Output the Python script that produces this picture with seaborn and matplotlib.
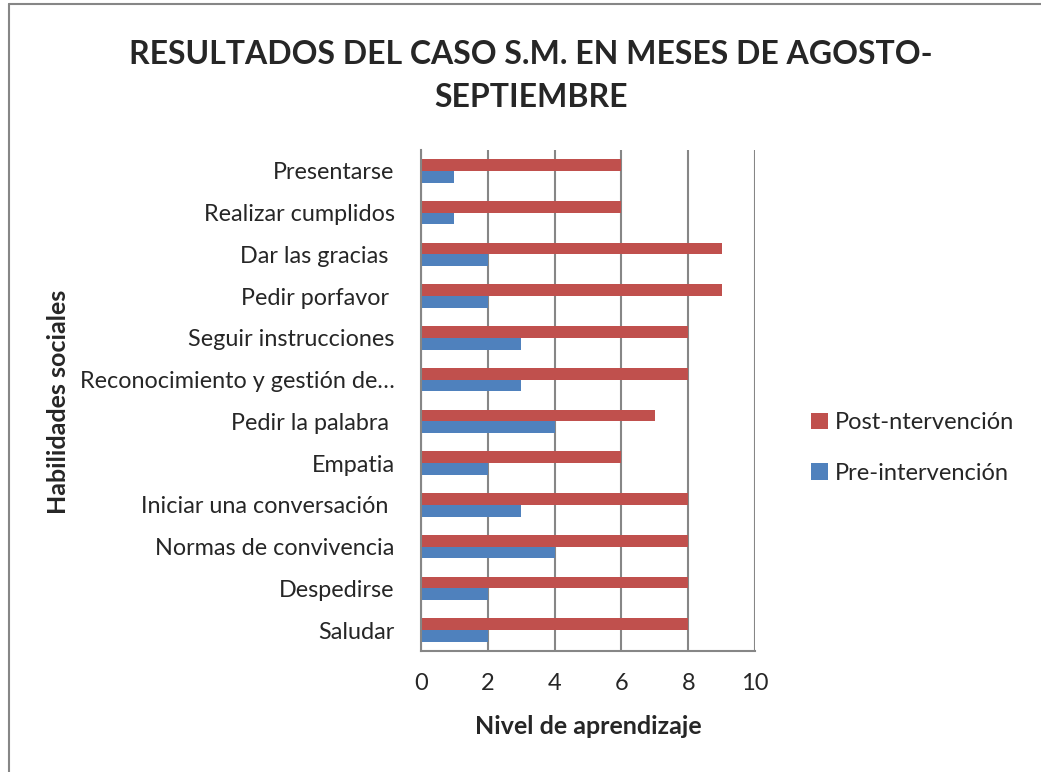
import seaborn as sns
import matplotlib.pyplot as plt
import pandas as pd
from matplotlib.lines import Line2D

# habilidades de arriba hacia abajo
habilidades = ["Presentarse", "Realizar cumplidos", "Dar las gracias ", "Pedir porfavor ",
               "Seguir instrucciones", "Reconocimiento y gestión de…", "Pedir la palabra ",
               "Empatia", "Iniciar una conversación ", "Normas de convivencia",
               "Despedirse", "Saludar"]
post = [6, 6, 9, 9, 8, 8, 7, 6, 8, 8, 8, 8]
pre = [1, 1, 2, 2, 3, 3, 4, 2, 3, 4, 2, 2]
series = ["Post-ntervención", "Pre-intervención"]

df = pd.DataFrame({"habilidad": habilidades * 2,
                   "nivel": post + pre,
                   "serie": [series[0]] * len(post) + [series[1]] * len(pre)})

sns.set_style("white")
plt.rcParams['font.family'] = ['Lato', 'DejaVu Sans']

W, H = 1041, 772
fig = plt.figure(figsize=(W / 100, H / 100), dpi=100)
ax = fig.add_axes([421 / W, 1 - 651 / H, (755 - 421) / W, (651 - 150) / H])

sns.barplot(data=df, y="habilidad", x="nivel", hue="serie", hue_order=series,
            order=habilidades, palette=["#C0504D", "#4F81BD"], width=0.56,
            orient="h", linewidth=0, saturation=1, ax=ax)

gris = "#868686"
ax.set_xlim(0, 10)
ax.set_xticks(range(0, 11, 2))
ax.xaxis.grid(True, color=gris, lw=1.5)
ax.yaxis.grid(False)
ax.set_axisbelow(True)
for s in ["top", "right"]:
    ax.spines[s].set_visible(False)
for s in ["left", "bottom"]:
    ax.spines[s].set_color(gris)
    ax.spines[s].set_linewidth(1.5)
ax.tick_params(axis="y", length=0, pad=19, labelsize=16.8)
ax.tick_params(axis="x", direction="out", length=5, width=1.5, color=gris,
               pad=11, labelsize=17)
ax.set_xlabel("")
ax.set_ylabel("")

handles, labels = ax.get_legend_handles_labels()
ax.get_legend().remove()
fig.legend(handles, labels, loc="center left", bbox_to_anchor=(790 / W, 1 - 448 / H),
           frameon=False, fontsize=17, handlelength=0.7, handleheight=0.7,
           handletextpad=0.3, labelspacing=1.25)

fig.text(531 / W, 1 - 76 / H, "RESULTADOS DEL CASO S.M. EN MESES DE AGOSTO-\nSEPTIEMBRE",
         ha="center", va="center", fontsize=23, fontweight="bold", linespacing=1.6)
fig.text(588 / W, 1 - 727 / H, "Nivel de aprendizaje", ha="center", va="center",
         fontsize=18, fontweight="bold")
fig.text(59 / W, 1 - 402 / H, "Habilidades sociales", ha="center", va="center",
         rotation=90, fontsize=18, fontweight="bold")

# marco del gráfico
fig.add_artist(Line2D([9 / W, 9 / W], [0, 1 - 4 / H], color=gris, lw=1.5))
fig.add_artist(Line2D([9 / W, 1], [1 - 4 / H, 1 - 4 / H], color=gris, lw=1.5))

fig.savefig("out.png", dpi=100)
